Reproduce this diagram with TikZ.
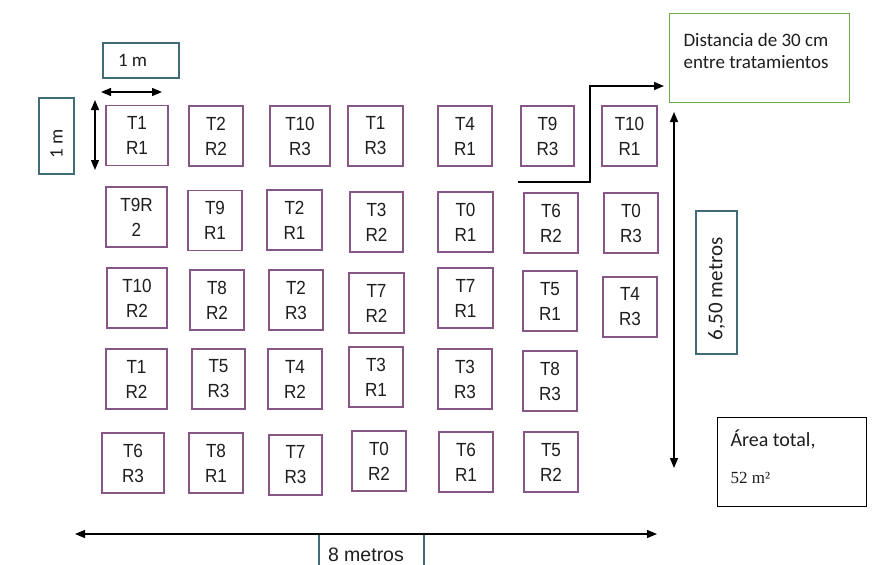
\documentclass[tikz,border=0pt]{standalone}
\usepackage{fontspec}
\usetikzlibrary{arrows.meta}
\newfontfamily\lblfont[FakeStretch=0.9]{Liberation Sans}
\newfontfamily\aptfont{Carlito}
\newfontfamily\serffont{Liberation Serif}
\newfontfamily\arialfont{Liberation Sans}
\definecolor{plotc}{RGB}{134,86,134}
\definecolor{tealc}{RGB}{64,108,120}
\definecolor{greenc}{RGB}{112,173,71}
\definecolor{txtc}{RGB}{30,30,30}
\begin{document}
\begin{tikzpicture}[x=1pt,y=-1pt,
  plotbox/.style={draw=plotc, line width=1.1pt, inner sep=0pt, minimum height=60pt, align=center, text=txtc, font=\lblfont\fontsize{19}{25}\selectfont},
  tealbox/.style={draw=tealc, line width=1.1pt, inner sep=0pt, text=txtc},
  dimarrow/.style={line width=1.3pt, {Triangle[length=10pt,width=8pt]}-{Triangle[length=10pt,width=8pt]}},
  onearrow/.style={line width=1.2pt, -{Triangle[length=10pt,width=8pt]}}
]
\useasboundingbox (0,0) rectangle (873,565);
\fill[white] (0,0) rectangle (873,565);

% row 1
\node[plotbox, minimum width=62pt] (a1) at (137,135.5) {T1\\R1};
\node[plotbox, minimum width=54pt] (a2) at (216,136) {T2\\R2};
\node[plotbox, minimum width=60pt] (a3) at (300,136) {T10\\R3};
\node[plotbox, minimum width=55pt] (a4) at (375.5,136) {T1\\R3};
\node[plotbox, minimum width=54pt] (a5) at (465,136) {T4\\R1};
\node[plotbox, minimum width=53pt] (a6) at (547.5,136) {T9\\R3};
\node[plotbox, minimum width=55pt] (a7) at (629.5,136) {T10\\R1};
% row 2
\node[plotbox, minimum width=61pt] (b1) at (136.5,217) {T9R\\2};
\node[plotbox, minimum width=54pt] (b2) at (215,220.5) {T9\\R1};
\node[plotbox, minimum width=55pt] (b3) at (294.5,220) {T2\\R1};
\node[plotbox, minimum width=53pt] (b4) at (376.5,222) {T3\\R2};
\node[plotbox, minimum width=55pt] (b5) at (465.5,222) {T0\\R1};
\node[plotbox, minimum width=54pt] (b6) at (551,223) {T6\\R2};
\node[plotbox, minimum width=54pt] (b7) at (631,223) {T0\\R3};
% row 3
\node[plotbox, minimum width=60pt] (c1) at (137,298) {T10\\R2};
\node[plotbox, minimum width=54pt] (c2) at (217,300) {T8\\R2};
\node[plotbox, minimum width=54pt] (c3) at (296,300) {T2\\R3};
\node[plotbox, minimum width=55pt] (c4) at (376.5,303) {T7\\R2};
\node[plotbox, minimum width=55pt] (c5) at (465.5,298) {T7\\R1};
\node[plotbox, minimum width=54pt] (c6) at (550,301) {T5\\R1};
\node[plotbox, minimum width=54pt] (c7) at (630,307) {T4\\R3};
% row 4
\node[plotbox, minimum width=61pt] (d1) at (136.5,379) {T1\\R2};
\node[plotbox, minimum width=53pt] (d2) at (218.5,379) {T5\\R3};
\node[plotbox, minimum width=54pt] (d3) at (295,379) {T4\\R2};
\node[plotbox, minimum width=54pt] (d4) at (376,377) {T3\\R1};
\node[plotbox, minimum width=54pt] (d5) at (465,379) {T3\\R3};
\node[plotbox, minimum width=54pt] (d6) at (550,381) {T8\\R3};
% row 5
\node[plotbox, minimum width=62pt] (e1) at (133,463) {T6\\R3};
\node[plotbox, minimum width=54pt] (e2) at (216,463) {T8\\R1};
\node[plotbox, minimum width=53pt] (e3) at (295.5,465) {T7\\R3};
\node[plotbox, minimum width=54pt] (e4) at (379,461) {T0\\R2};
\node[plotbox, minimum width=54pt] (e5) at (466,462) {T6\\R1};
\node[plotbox, minimum width=54pt] (e6) at (551,462) {T5\\R2};

% dimension labels
\node[tealbox, minimum height=35pt, font=\aptfont\fontsize{19}{22}\selectfont] (mtop) at (141,60.5) {\makebox[76pt][l]{\hspace{15pt}1 m}};
\node[tealbox, rotate=90, minimum height=35pt, font=\aptfont\fontsize{19}{22}\selectfont] (mleft) at (56.5,136) {\makebox[76pt][l]{\hspace{16pt}1 m}};
\node[tealbox, rotate=90, minimum height=41pt, font=\aptfont\fontsize{21}{24}\selectfont] (s650) at (716.5,282.5) {\makebox[143pt][l]{\hspace{14pt}6,50 metros}};
\node[tealbox, minimum height=42pt, font=\arialfont\fontsize{19.5}{24}\selectfont] (m8) at (371.5,555) {\makebox[105pt][l]{\hspace{9pt}8 metros}};

\node[draw=greenc, line width=1.1pt, inner sep=0pt, anchor=north west, text=txtc] (dist) at (669,13)
  {\parbox[c][89pt][t]{180pt}{\raggedright\leftskip=14pt\aptfont\fontsize{19}{22}\selectfont\rule{0pt}{33pt}Distancia de 30 cm\\entre tratamientos}};

\node[draw=black, line width=1.1pt, inner sep=0pt, anchor=north west, text=txtc] (area) at (717,417)
  {\parbox[c][89pt][t]{149pt}{\raggedright\leftskip=13pt\aptfont\fontsize{20}{37}\selectfont\rule{0pt}{29pt}Área total,\\{\serffont\fontsize{17}{37}\selectfont 52 m²}}};

% arrows
\coordinate (h1a) at (101,92);
\coordinate (h1b) at (162,92);
\draw[dimarrow] (h1a) -- (h1b);
\coordinate (v1a) at (95,100);
\coordinate (v1b) at (95,170);
\draw[dimarrow] (v1a) -- (v1b);
\coordinate (el0) at (518,182);
\coordinate (el1) at (590,182);
\coordinate (eltip) at (664,86);
\draw[onearrow] (el0) -- (el1) |- (eltip);
\coordinate (vra) at (674,112);
\coordinate (vrb) at (674,468);
\draw[dimarrow] (vra) -- (vrb);
\coordinate (hba) at (75,534);
\coordinate (hbb) at (657,534);
\draw[dimarrow] (hba) -- (hbb);
\end{tikzpicture}
\end{document}
